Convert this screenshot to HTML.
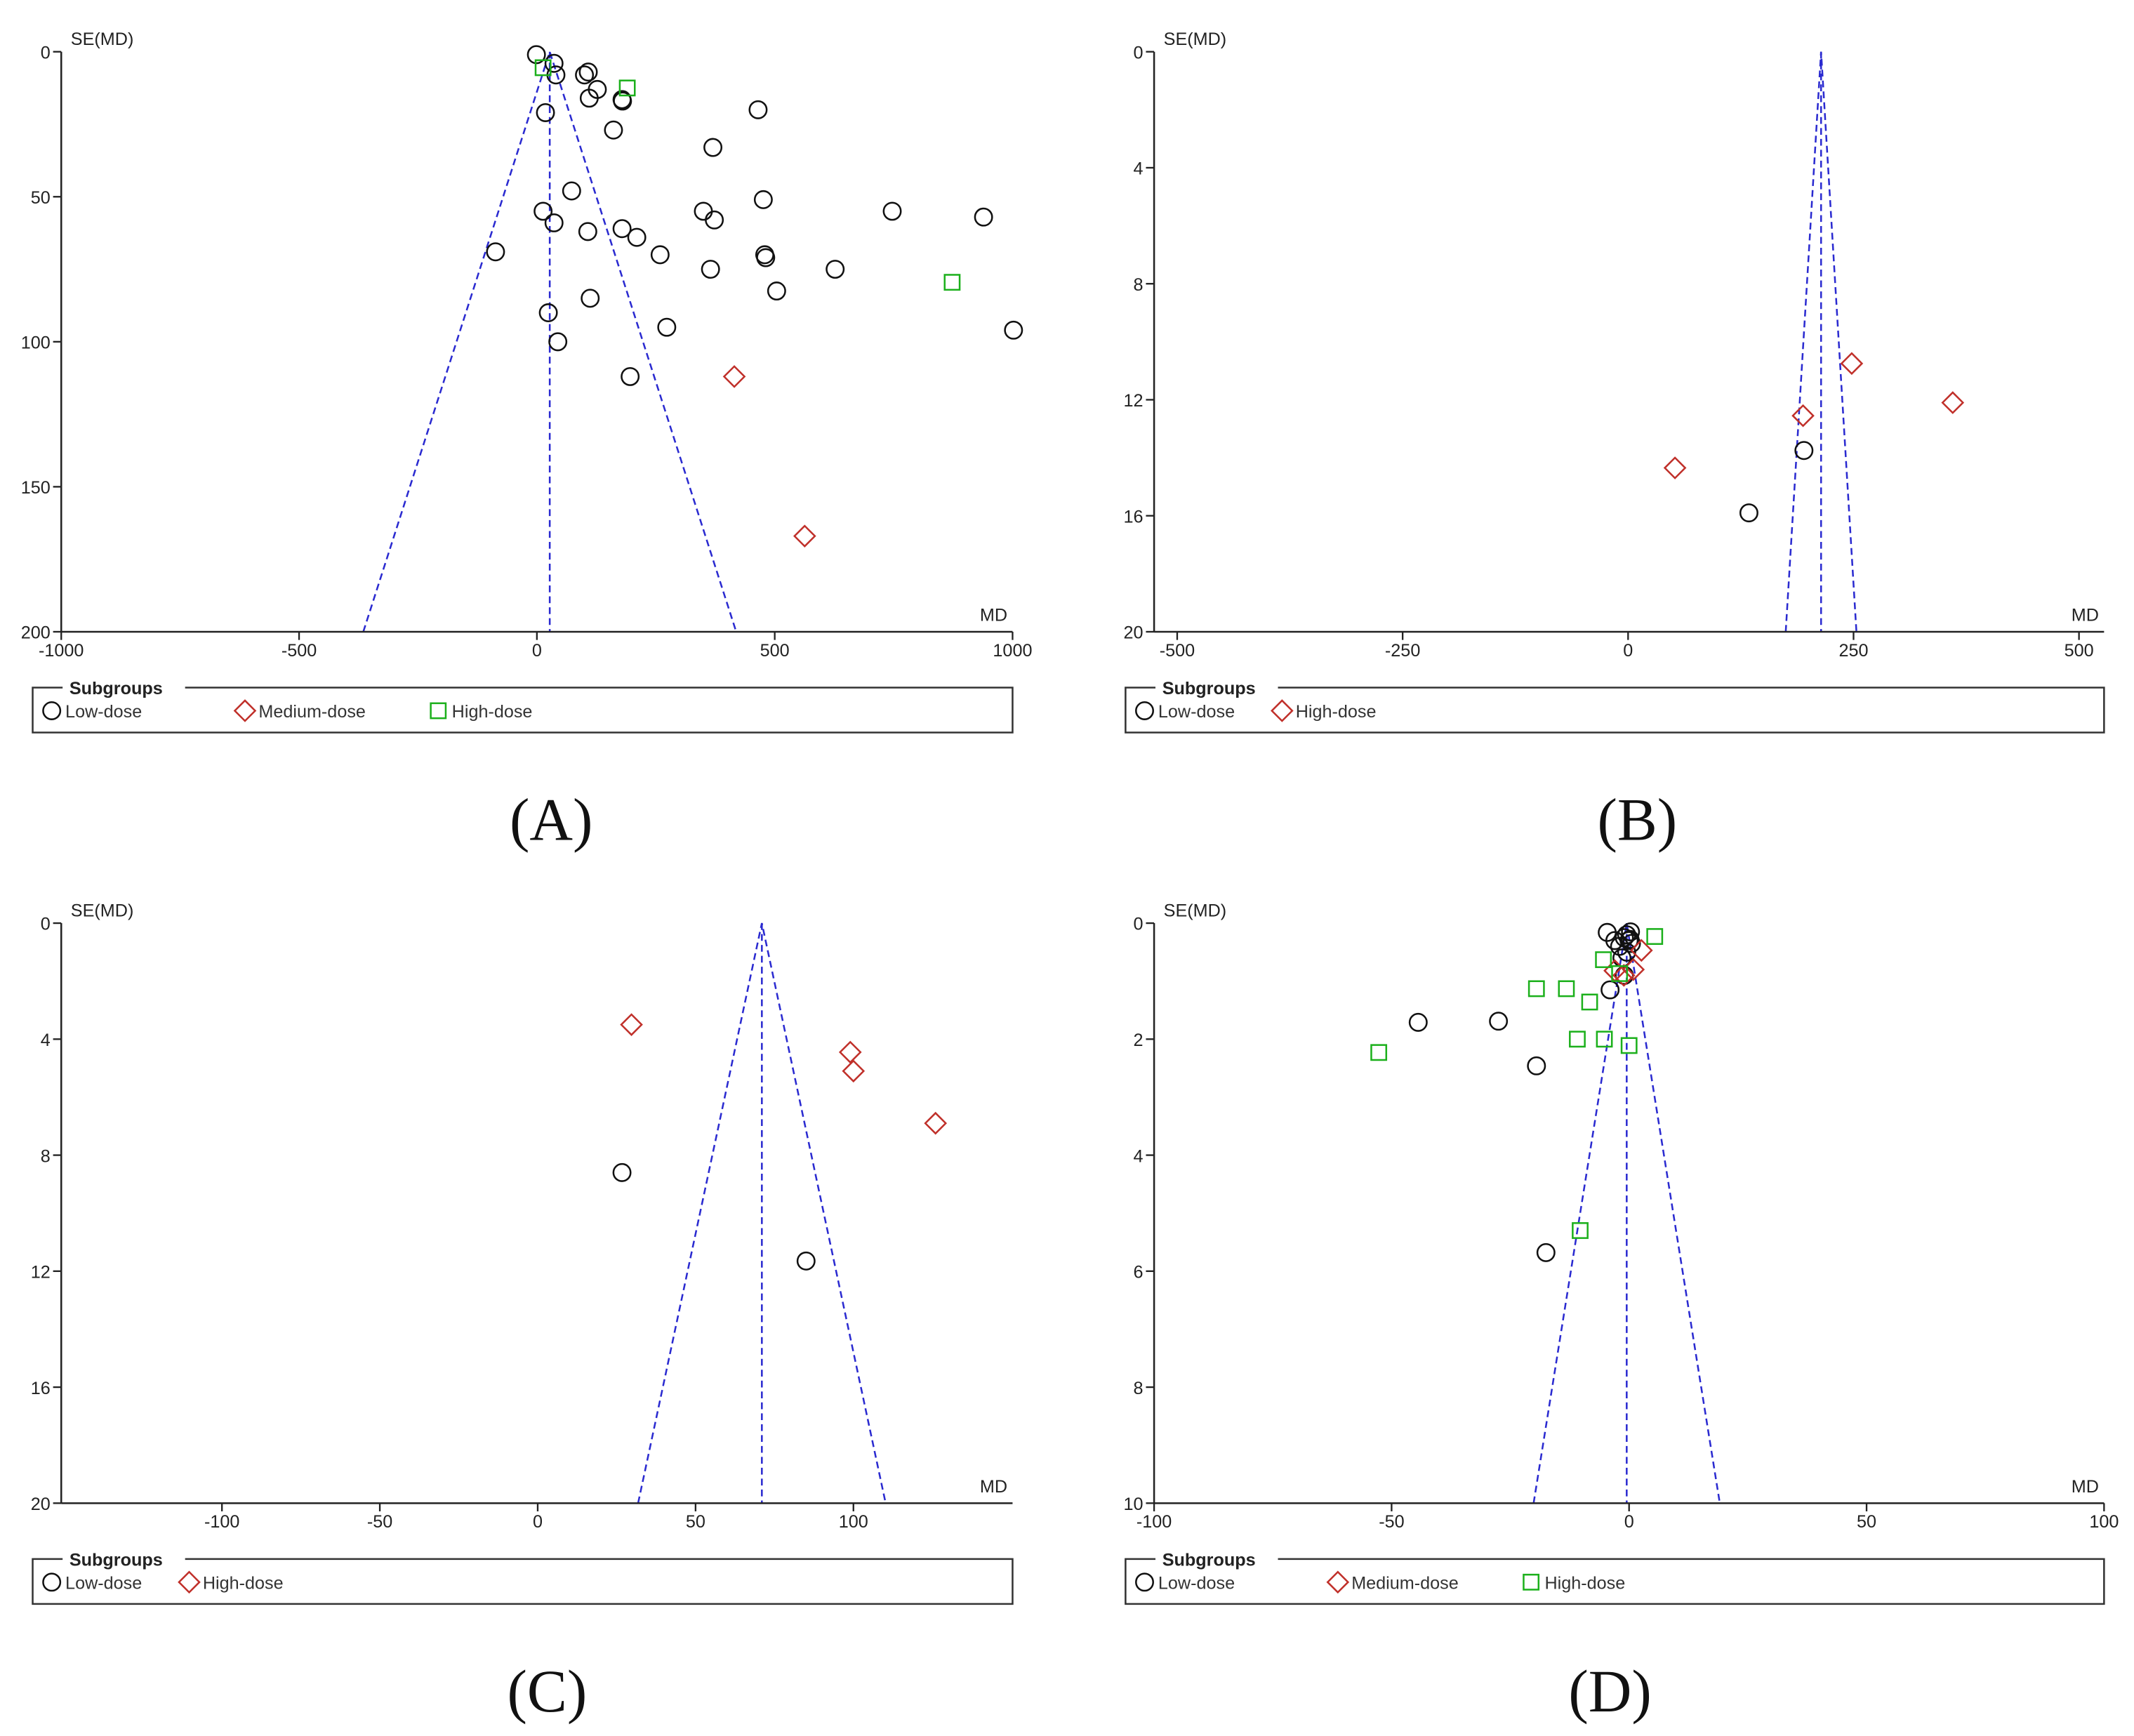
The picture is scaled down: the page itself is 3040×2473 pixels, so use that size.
<!DOCTYPE html>
<html><head><meta charset="utf-8"><style>
html,body{margin:0;padding:0;background:#fff}
svg{display:block}
text{font-family:"Liberation Sans",sans-serif}
</style></head><body>
<svg id="fig" width="3040" height="2473" viewBox="0 0 1568 1275" preserveAspectRatio="none" xmlns="http://www.w3.org/2000/svg"></svg>
<script>
// Panel A data
const aLowMD=[-1,36,40,100,108,18,127,110,179,180,161,465,370,73,13,36,107,179,210,259,-87,350,373,476,479,481,365,504,627,747,939,1002,112,24,44,196,273];
const aLowSE=[1,4,8,8,7,21,13,16,16.5,17,27,20,33,48,55,59,62,61,64,70,69,55,58,51,70,71,75,82.5,75,55,57,96,85,90,100,112,95];
const aMedMD=[415,563];
const aMedSE=[112,167];
const aHighMD=[13,190,873];
const aHighSE=[5.5,12.5,79.5];
const aXTicks=[-1000,-500,0,500,1000];
const aYTicks=[0,50,100,150,200];
// Panel B data
const bLowMD=[195,134];
const bLowSE=[13.75,15.9];
const bHighMD=[248,360,194,52];
const bHighSE=[10.75,12.1,12.55,14.35];
const bXTicks=[-500,-250,0,250,500];
const bYTicks=[0,4,8,12,16,20];
// Panel C data
const cLowMD=[26.7,85];
const cLowSE=[8.6,11.65];
const cHighMD=[29.7,99,100,126];
const cHighSE=[3.5,4.45,5.1,6.9];
const cXTicks=[-100,-50,0,50,100];
const cYTicks=[0,4,8,12,16,20];
// Panel D data
const dLowMD=[-44.4,-27.5,-19.5,-17.5,-4,-4.6,-1,0,-0.5,0.5,-2,-3,-1.5,-0.5,0.3,-1,0.2];
const dLowSE=[1.71,1.69,2.46,5.68,1.15,0.16,0.25,0.3,0.2,0.35,0.4,0.3,0.6,0.5,0.15,0.9,0.28];
const dMedMD=[2.6,-1.1,0.9,-3];
const dMedSE=[0.47,0.9,0.8,0.82];
const dHighMD=[-52.7,-19.5,-13.2,-8.3,-10.9,-5.2,0,-10.3,5.4,-5.4,-2];
const dHighSE=[2.23,1.13,1.13,1.36,2.0,2.0,2.11,5.3,0.23,0.63,0.87];
const pooled=[27,214,71,-0.5];

const NS="http://www.w3.org/2000/svg";
const svg=document.getElementById('fig');
function mk(tag,attrs,parent){const e=document.createElementNS(NS,tag);for(const k in attrs)e.setAttribute(k,attrs[k]);(parent||svg).appendChild(e);return e;}
function txt(s,attrs,parent){const e=mk('text',attrs,parent);e.textContent=s;return e;}

function marker(g,type,cx,cy){
  let e;
  if(type==='low'){e=mk('circle',{cx:cx,cy:cy,r:6.3,fill:'none',stroke:'#111','stroke-width':1.3},g);}
  else if(type==='med'){e=mk('path',{d:`M${cx} ${cy-7.5}L${cx+7.5} ${cy}L${cx} ${cy+7.5}L${cx-7.5} ${cy}Z`,fill:'none',stroke:'#c0302a','stroke-width':1.3},g);}
  else {e=mk('rect',{x:cx-5.5,y:cy-5.5,width:11,height:11,fill:'none',stroke:'#1cb01c','stroke-width':1.3},g);}
  return e;
}

function panel(o){
  const g=mk('g',{});
  
  
  const X=v=>o.x0+(v-o.xmin)/(o.xmax-o.xmin)*(o.x1-o.x0);
  const Y=v=>o.y0+v/o.ymax*(o.y1-o.y0);
  const c=o.pooled, w=1.96*o.ymax;
  const f=mk('path',{d:`M${X(c-w)} ${Y(o.ymax)}L${X(c)} ${Y(0)}L${X(c+w)} ${Y(o.ymax)}`,fill:'none',stroke:'#2a2ad0','stroke-width':1.3,'stroke-dasharray':'5,3'},g);
  
  
  const pl=mk('line',{x1:X(c),y1:Y(0),x2:X(c),y2:Y(o.ymax),stroke:'#2a2ad0','stroke-width':1.3,'stroke-dasharray':'5,3'},g);
  
  
  const ya=mk('line',{x1:o.x0,y1:o.y0,x2:o.x0,y2:o.y1,stroke:'#222','stroke-width':1.3},g);
  
  
  const xa=mk('line',{x1:o.x0,y1:o.y1,x2:o.x1,y2:o.y1,stroke:'#222','stroke-width':1.3},g);
  
  
  o.yt.forEach(v=>{
    mk('line',{x1:o.x0-6,y1:Y(v),x2:o.x0,y2:Y(v),stroke:'#222','stroke-width':1.2},g);
    const t=txt(String(v),{x:o.x0-8,y:Y(v)+5,'font-size':13,'text-anchor':'end',fill:'#222'},g);
    
    
  });
  o.xt.forEach(v=>{
    mk('line',{x1:X(v),y1:o.y1,x2:X(v),y2:o.y1+6,stroke:'#222','stroke-width':1.2},g);
    const t=txt(String(v),{x:X(v),y:o.y1+18,'font-size':13,'text-anchor':'middle',fill:'#222'},g);
    
    
  });
  const yl=txt('SE(MD)',{x:o.x0+7,y:o.y0-5,'font-size':13,fill:'#222'},g);
  
  
  const xl=txt('MD',{x:o.x1-24,y:o.y1-8,'font-size':13,fill:'#222'},g);
  
  
  o.series.forEach(s=>{
    s.md.forEach((m,i)=>{
      const e=marker(g,s.type,X(m),Y(s.se[i]));
      
      
    });
  });
  const lg=mk('g',{},g);
  
  
  const lx=o.lx0, lx1=o.x1, ly=o.y1+41, ly1=o.y1+74;
  mk('path',{d:`M${lx+22} ${ly}L${lx} ${ly}L${lx} ${ly1}L${lx1} ${ly1}L${lx1} ${ly}L${lx+112} ${ly}`,fill:'none',stroke:'#333','stroke-width':1.3},lg);
  const st=txt('Subgroups',{x:lx+27,y:ly+5,'font-size':13,'font-weight':'bold',fill:'#222'},lg);
  
  
  o.leg.forEach(it=>{
    const m=marker(lg,it.type,lx+it.dx+14,ly+17);
    
    
    const t=txt(it.label,{x:lx+it.dx+24,y:ly+22,'font-size':13,fill:'#333'},lg);
    
    
  });
  const pt=txt(o.tag,{x:o.tagx,y:o.y1+153,'font-size':44,'text-anchor':'middle',fill:'#111',style:'font-family:"Liberation Serif",serif'},g);
  
  
}

panel({name:'panel-a',x0:45,x1:744,y0:38,y1:464,xmin:-1000,xmax:1000,ymax:200,xt:aXTicks,yt:aYTicks,pooled:pooled[0],
  series:[{type:'low',md:aLowMD,se:aLowSE},{type:'med',md:aMedMD,se:aMedSE},{type:'high',md:aHighMD,se:aHighSE}],
  lx0:24,leg:[{type:'low',dx:0,label:'Low-dose'},{type:'med',dx:142,label:'Medium-dose'},{type:'high',dx:284,label:'High-dose'}],tag:'(A)',tagx:405});
panel({name:'panel-b',x0:848,x1:1546,y0:38,y1:464,xmin:-525.6,xmax:527.8,ymax:20,xt:bXTicks,yt:bYTicks,pooled:pooled[1],
  series:[{type:'low',md:bLowMD,se:bLowSE},{type:'med',md:bHighMD,se:bHighSE}],
  lx0:827,leg:[{type:'low',dx:0,label:'Low-dose'},{type:'med',dx:101,label:'High-dose'}],tag:'(B)',tagx:1203});
panel({name:'panel-c',x0:45,x1:744,y0:678,y1:1104,xmin:-150.9,xmax:150.4,ymax:20,xt:cXTicks,yt:cYTicks,pooled:pooled[2],
  series:[{type:'low',md:cLowMD,se:cLowSE},{type:'med',md:cHighMD,se:cHighSE}],
  lx0:24,leg:[{type:'low',dx:0,label:'Low-dose'},{type:'med',dx:101,label:'High-dose'}],tag:'(C)',tagx:402});
panel({name:'panel-d',x0:848,x1:1546,y0:678,y1:1104,xmin:-100,xmax:100,ymax:10,xt:[-100,-50,0,50,100],yt:[0,2,4,6,8,10],pooled:pooled[3],
  series:[{type:'low',md:dLowMD,se:dLowSE},{type:'med',md:dMedMD,se:dMedSE},{type:'high',md:dHighMD,se:dHighSE}],
  lx0:827,leg:[{type:'low',dx:0,label:'Low-dose'},{type:'med',dx:142,label:'Medium-dose'},{type:'high',dx:284,label:'High-dose'}],tag:'(D)',tagx:1183});
</script>
</body></html>
